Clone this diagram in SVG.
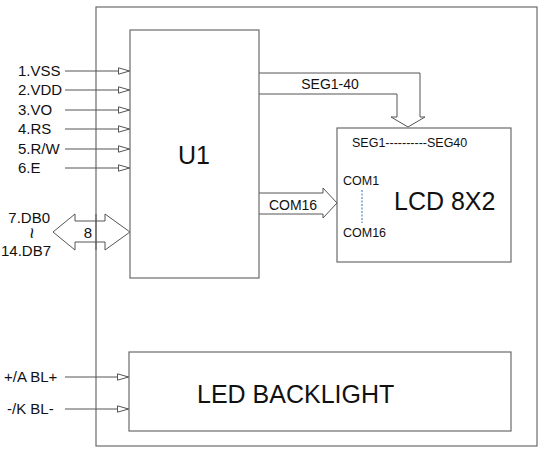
<svg xmlns="http://www.w3.org/2000/svg" width="545" height="455" viewBox="0 0 545 455">
<defs>
<style>
.box{fill:none;stroke:#6b6b6b;stroke-width:1.2}
.ln{fill:none;stroke:#555;stroke-width:1}
.t{font-family:"Liberation Sans",Arial,sans-serif;fill:#111}
.s{font-size:14px}
.l{font-size:15px}
.sm{font-size:12.5px}
.big{font-size:25px}
</style>
<marker id="tri" viewBox="0 0 12 8" refX="12" refY="4" markerWidth="12" markerHeight="8" markerUnits="userSpaceOnUse" orient="auto">
<path d="M0.5,0.8 L11.5,4 L0.5,7.2 Z" fill="#fff" stroke="#555" stroke-width="1"/>
</marker>
</defs>
<rect width="545" height="455" fill="#fff"/>
<g id="outer"><rect class="box" x="96" y="7" width="441" height="439"/></g>
<g id="connectors">
<line class="ln" x1="65" y1="71" x2="130" y2="71" marker-end="url(#tri)"/>
<line class="ln" x1="65" y1="90" x2="130" y2="90" marker-end="url(#tri)"/>
<line class="ln" x1="65" y1="110" x2="130" y2="110" marker-end="url(#tri)"/>
<line class="ln" x1="65" y1="129" x2="130" y2="129" marker-end="url(#tri)"/>
<line class="ln" x1="65" y1="149" x2="130" y2="149" marker-end="url(#tri)"/>
<line class="ln" x1="65" y1="168" x2="130" y2="168" marker-end="url(#tri)"/>
<line class="ln" x1="65" y1="377" x2="129" y2="377" marker-end="url(#tri)"/>
<line class="ln" x1="65" y1="409" x2="129" y2="409" marker-end="url(#tri)"/>
<path class="ln" d="M53,232 L75,214 L75,221 L105,221 L105,214 L130,232 L105,250 L105,242 L75,242 L75,250 Z" fill="#fff"/>
<line class="ln" x1="96" y1="214" x2="96" y2="250"/>
<path class="ln" d="M259,73 L420,73 L420,117 L425,117 L408,127 L391,117 L397,117 L397,94 L259,94"/>
<path class="ln" d="M259,193 L323,193 L323,188 L337,203 L323,218 L323,214 L259,214"/>
<text class="t s" x="330" y="89" text-anchor="middle">SEG1-40</text>
<text class="t s" x="293" y="210" text-anchor="middle">COM16</text>
<text class="t l" x="88" y="238" text-anchor="middle">8</text>
</g>
<g id="labels">
<text class="t l" x="18" y="76">1.VSS</text>
<text class="t l" x="18" y="95">2.VDD</text>
<text class="t l" x="18" y="115">3.VO</text>
<text class="t l" x="18" y="134">4.RS</text>
<text class="t l" x="18" y="154">5.R/W</text>
<text class="t l" x="18" y="173">6.E</text>
<text class="t l" x="50" y="223" text-anchor="end">7.DB0</text>
<text class="t" x="0" y="0" font-size="20px" text-anchor="middle" transform="translate(25,233) rotate(90)">~</text>
<text class="t l" x="51" y="256" text-anchor="end">14.DB7</text>
<text class="t l" x="4" y="382">+/A BL+</text>
<text class="t l" x="7" y="414">-/K BL-</text>
</g>
<g id="u1">
<rect class="box" x="130" y="30" width="129" height="248"/>
<text class="t big" x="178" y="164">U1</text>
</g>
<g id="lcd">
<rect class="box" x="337" y="128" width="174" height="134"/>
<text class="t sm" x="352" y="147">SEG1----------SEG40</text>
<text class="t sm" x="343" y="185">COM1</text>
<line x1="362" y1="190" x2="362" y2="223" stroke="#3a6fb0" stroke-width="1" stroke-dasharray="2,1.5"/>
<text class="t sm" x="343" y="237">COM16</text>
<text class="t big" x="394" y="210" font-size="26px">LCD 8X2</text>
</g>
<g id="backlight">
<rect class="box" x="129" y="352" width="382" height="79"/>
<text class="t big" x="197" y="403" font-size="26px">LED BACKLIGHT</text>
</g>
</svg>
